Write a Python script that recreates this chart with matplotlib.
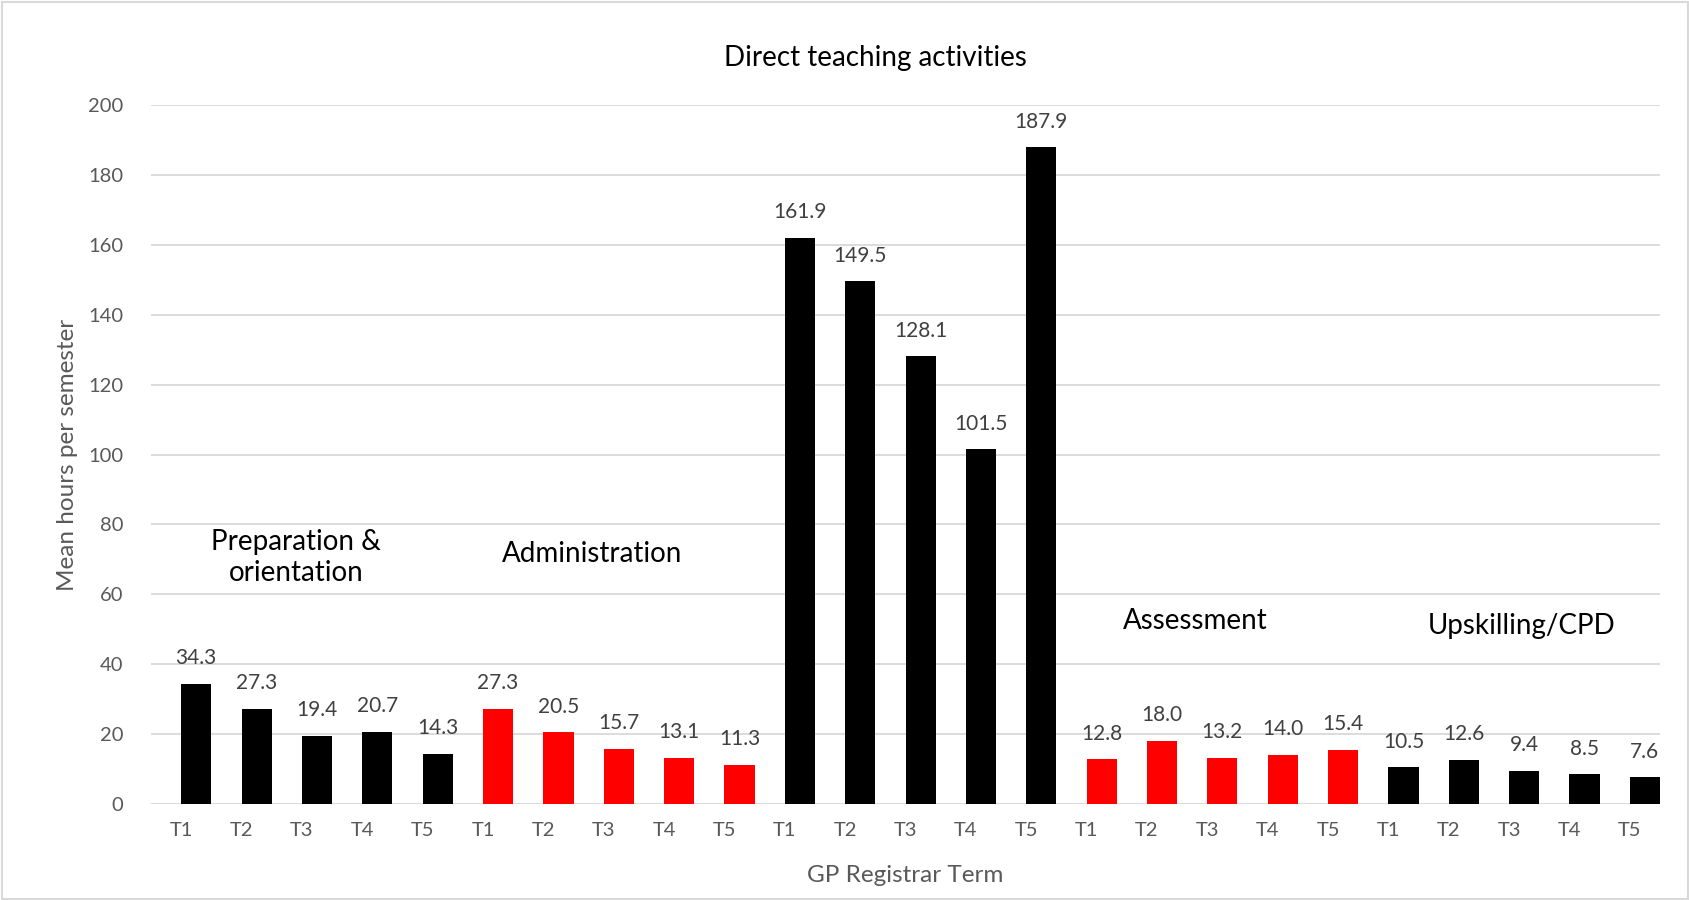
import matplotlib.pyplot as plt
from matplotlib.patches import Rectangle
import numpy as np

plt.rcParams['font.family'] = ['Lato', 'DejaVu Sans']

terms = ['T1', 'T2', 'T3', 'T4', 'T5']
groups = ['Preparation &\norientation', 'Administration', 'Direct teaching activities',
          'Assessment', 'Upskilling/CPD']
prep = [34.3, 27.3, 19.4, 20.7, 14.3]
admin = [27.3, 20.5, 15.7, 13.1, 11.3]
direct = [161.9, 149.5, 128.1, 101.5, 187.9]
assess = [12.8, 18.0, 13.2, 14.0, 15.4]
upskill = [10.5, 12.6, 9.4, 8.5, 7.6]
group_colors = ['#000000', '#FF0000', '#000000', '#FF0000', '#000000']

values = prep + admin + direct + assess + upskill
colors = [c for c in group_colors for _ in terms]
labels = terms * len(groups)
x = np.arange(len(values))
# bars sit in the right half of each category slot (Excel cluster gap)
xb = x + 0.25

fig = plt.figure(figsize=(16.9, 9), dpi=100)
ax = fig.add_axes([151 / 1690, 96 / 900, 1509 / 1690, 699 / 900])

bars = ax.bar(xb, values, width=0.5, color=colors, zorder=3)
for xi, v in zip(xb, values):
    ax.text(xi, v + 4.5, f'{v:.1f}', ha='center', va='bottom', fontsize=15, color='#404040')

ax.set_xlim(-0.5, len(values) - 0.5)
ax.set_ylim(0, 200)
ax.set_yticks(range(0, 201, 20))
ax.set_xticks(x)
ax.set_xticklabels(labels)
ax.tick_params(axis='both', length=0, labelsize=14.5, labelcolor='#595959')
ax.tick_params(axis='x', pad=13)
ax.tick_params(axis='y', pad=20)
ax.grid(axis='y', color='#D9D9D9', linewidth=1.3, zorder=0)
for s in ax.spines.values():
    s.set_visible(False)

ax.set_xlabel('GP Registrar Term', fontsize=17.5, color='#595959', labelpad=19)
ax.set_ylabel('Mean hours per semester', fontsize=17.5, color='#595959', labelpad=7)

# group annotations
ax.text(11.5, 213.5, groups[2], ha='center', va='center', fontsize=20, color='black')
ax.text(1.9, 70.5, groups[0], ha='center', va='center', fontsize=20, color='black',
        linespacing=1.25)
ax.text(6.8, 71.5, groups[1], ha='center', va='center', fontsize=20, color='black')
ax.text(16.8, 52.5, groups[3], ha='center', va='center', fontsize=20, color='black')
ax.text(22.2, 51, groups[4], ha='center', va='center', fontsize=20, color='black')

fig.patches.append(Rectangle((0.001, 0.001), 0.998, 0.997, transform=fig.transFigure,
                             fill=False, edgecolor='#D9D9D9', linewidth=1.5))

fig.savefig('out.png', dpi=100)
